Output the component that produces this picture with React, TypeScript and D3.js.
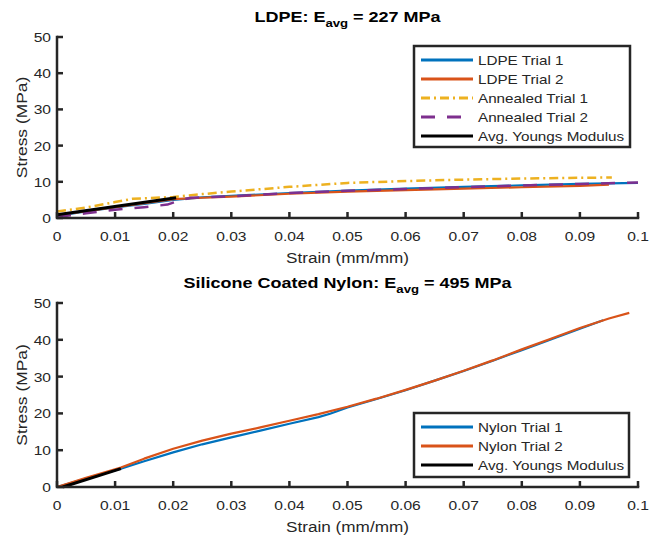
import { useEffect, useRef } from "react";
import { select, scaleLinear, line } from "d3";

type Pt = [number, number];

// LDPE panel (strain mm/mm, stress MPa)
const ldpeTrial1: Pt[] = [[0, 0.6], [0.005, 1.8], [0.01, 2.9], [0.015, 3.9], [0.02, 5.0], [0.025, 5.7], [0.03, 6.1], [0.04, 6.9], [0.05, 7.6], [0.06, 8.1], [0.07, 8.6], [0.08, 9.0], [0.09, 9.4], [0.1, 9.7]];
const ldpeTrial2: Pt[] = [[0, 0.8], [0.01, 3.0], [0.02, 5.2], [0.025, 5.6], [0.03, 5.9], [0.04, 6.7], [0.05, 7.3], [0.06, 7.7], [0.07, 8.1], [0.08, 8.5], [0.09, 8.9], [0.095, 9.2]];
const annealedTrial1: Pt[] = [[0, 1.8], [0.005, 2.9], [0.01, 4.4], [0.013, 5.3], [0.02, 5.8], [0.025, 6.6], [0.03, 7.3], [0.04, 8.6], [0.05, 9.7], [0.06, 10.2], [0.07, 10.6], [0.08, 10.9], [0.09, 11.1], [0.0955, 11.2]];
const annealedTrial2: Pt[] = [[0, 0.3], [0.005, 1.3], [0.01, 2.3], [0.015, 3.0], [0.019, 3.7], [0.021, 4.8], [0.023, 5.6], [0.03, 6.0], [0.04, 6.9], [0.05, 7.5], [0.06, 8.0], [0.07, 8.5], [0.08, 9.0], [0.09, 9.4], [0.1, 9.8]];
const ldpeModulus: Pt[] = [[0, 0.9], [0.0205, 5.6]];

// Nylon panel
const nylonTrial1: Pt[] = [[0, 0], [0.005, 2.3], [0.011, 5.0], [0.015, 7.0], [0.02, 9.4], [0.025, 11.6], [0.03, 13.5], [0.035, 15.3], [0.04, 17.2], [0.045, 19.0], [0.047, 19.9], [0.05, 21.6], [0.055, 23.9], [0.06, 26.3], [0.065, 28.9], [0.07, 31.5], [0.075, 34.3], [0.08, 37.2], [0.085, 40.1], [0.09, 43.0], [0.094, 45.3]];
const nylonTrial2: Pt[] = [[0, 0], [0.005, 2.5], [0.011, 5.3], [0.015, 7.7], [0.02, 10.4], [0.025, 12.6], [0.03, 14.5], [0.035, 16.2], [0.04, 18.0], [0.045, 19.8], [0.05, 21.8], [0.055, 24.0], [0.06, 26.4], [0.065, 28.9], [0.07, 31.6], [0.075, 34.4], [0.08, 37.4], [0.085, 40.3], [0.09, 43.2], [0.095, 45.8], [0.0985, 47.3]];
const nylonModulus: Pt[] = [[0.001, 0], [0.011, 5.0]];

const xTicks = [0, 0.01, 0.02, 0.03, 0.04, 0.05, 0.06, 0.07, 0.08, 0.09, 0.1];
const xTickLabels = ["0", "0.01", "0.02", "0.03", "0.04", "0.05", "0.06", "0.07", "0.08", "0.09", "0.1"];
const yTicks = [0, 10, 20, 30, 40, 50];

const blue = "#0072BD";
const orange = "#D95319";
const yellow = "#EDB120";
const purple = "#7E2F8E";
const axisColor = "#262626";
const font = "'Liberation Sans', Arial, sans-serif";
const stretch = 1.2; // the original text renders wide

const W = 650;
const H = 538;
const left = 57;
const right = 638;

interface Series {
  name: string;
  data: Pt[];
  color: string;
  dash?: string;
  width: number;
}

interface Panel {
  title: string;
  value: string;
  top: number;
  bottom: number;
  series: Series[];
  legend: { x: number; y: number; w: number; h: number };
}

const panels: Panel[] = [
  {
    title: "LDPE: E",
    value: " = 227 MPa",
    top: 37,
    bottom: 218,
    series: [
      { name: "LDPE Trial 1", data: ldpeTrial1, color: blue, width: 2.2 },
      { name: "LDPE Trial 2", data: ldpeTrial2, color: orange, width: 2.2 },
      { name: "Annealed Trial 1", data: annealedTrial1, color: yellow, dash: "9,4,2,4", width: 2.5 },
      { name: "Annealed Trial 2", data: annealedTrial2, color: purple, dash: "14,12", width: 2.5 },
      { name: "Avg. Youngs Modulus", data: ldpeModulus, color: "#000", width: 3 },
    ],
    legend: { x: 414, y: 46, w: 216, h: 101 },
  },
  {
    title: "Silicone Coated Nylon: E",
    value: " = 495 MPa",
    top: 303,
    bottom: 487,
    series: [
      { name: "Nylon Trial 1", data: nylonTrial1, color: blue, width: 2.2 },
      { name: "Nylon Trial 2", data: nylonTrial2, color: orange, width: 2.2 },
      { name: "Avg. Youngs Modulus", data: nylonModulus, color: "#000", width: 3 },
    ],
    legend: { x: 414, y: 413, w: 215, h: 64 },
  },
];

export default function App() {
  const ref = useRef<SVGSVGElement>(null);

  useEffect(() => {
    if (!ref.current) return;
    const svg = select(ref.current);
    svg.selectAll("*").remove();

    // text stretched along its own direction
    const label = (
      g: any,
      x: number,
      y: number,
      size: number,
      anchor: string,
      rotate = 0
    ) =>
      g
        .append("text")
        .attr("transform", `translate(${x},${y}) rotate(${rotate}) scale(${stretch},1)`)
        .attr("text-anchor", anchor)
        .attr("font-family", font)
        .attr("font-size", size)
        .attr("fill", axisColor);

    panels.forEach((p) => {
      const x = scaleLinear().domain([0, 0.1]).range([left, right]);
      const y = scaleLinear().domain([0, 50]).range([p.bottom, p.top]);
      const g = svg.append("g");
      const mid = (left + right) / 2;

      // title with subscript
      const t = label(g, mid, p.top - 15, 15, "middle")
        .attr("font-weight", "bold")
        .attr("fill", "#000");
      t.append("tspan").text(p.title);
      t.append("tspan").attr("dy", 5).attr("font-size", 11).text("avg");
      t.append("tspan").attr("dy", -5).text(p.value);

      // lines
      const gen = line<Pt>()
        .x((d) => x(d[0]))
        .y((d) => y(d[1]));
      p.series.forEach((s) => {
        g.append("path")
          .attr("d", gen(s.data) as string)
          .attr("fill", "none")
          .attr("stroke", s.color)
          .attr("stroke-width", s.width)
          .attr("stroke-dasharray", s.dash ?? null)
          .attr("stroke-linejoin", "round");
      });

      // axes
      g.append("path")
        .attr("d", `M${left},${p.top}V${p.bottom}H${right}`)
        .attr("fill", "none")
        .attr("stroke", axisColor)
        .attr("stroke-width", 2.5)
        .attr("stroke-linecap", "square");

      xTicks.forEach((v, i) => {
        g.append("line")
          .attr("x1", x(v))
          .attr("x2", x(v))
          .attr("y1", p.bottom)
          .attr("y2", p.bottom - 6)
          .attr("stroke", axisColor)
          .attr("stroke-width", 2.5);
        label(g, x(v), p.bottom + 23, 13, "middle").text(xTickLabels[i]);
      });

      yTicks.forEach((v) => {
        g.append("line")
          .attr("x1", left)
          .attr("x2", left + 6)
          .attr("y1", y(v))
          .attr("y2", y(v))
          .attr("stroke", axisColor)
          .attr("stroke-width", 2.5);
        label(g, left - 6, y(v) + 5, 13, "end").text(String(v));
      });

      label(g, mid, p.bottom + 45, 14.3, "middle").text("Strain (mm/mm)");
      label(g, 27, (p.top + p.bottom) / 2, 14.5, "middle", -90).text("Stress (MPa)");

      // legend
      const L = p.legend;
      g.append("rect")
        .attr("x", L.x)
        .attr("y", L.y)
        .attr("width", L.w)
        .attr("height", L.h)
        .attr("fill", "#fff")
        .attr("stroke", axisColor)
        .attr("stroke-width", 2.5);
      p.series.forEach((s, i) => {
        const cy = L.y + 14 + i * 19;
        g.append("line")
          .attr("x1", L.x + 7)
          .attr("x2", L.x + 59)
          .attr("y1", cy)
          .attr("y2", cy)
          .attr("stroke", s.color)
          .attr("stroke-width", 3)
          .attr("stroke-dasharray", s.dash ?? null);
        label(g, L.x + 64, cy + 5, 12.7, "start").text(s.name);
      });
    });
  }, []);

  return (
    <svg
      ref={ref}
      width={W}
      height={H}
      style={{ position: "absolute", left: 0, top: 0, background: "#fff" }}
    ></svg>
  );
}
